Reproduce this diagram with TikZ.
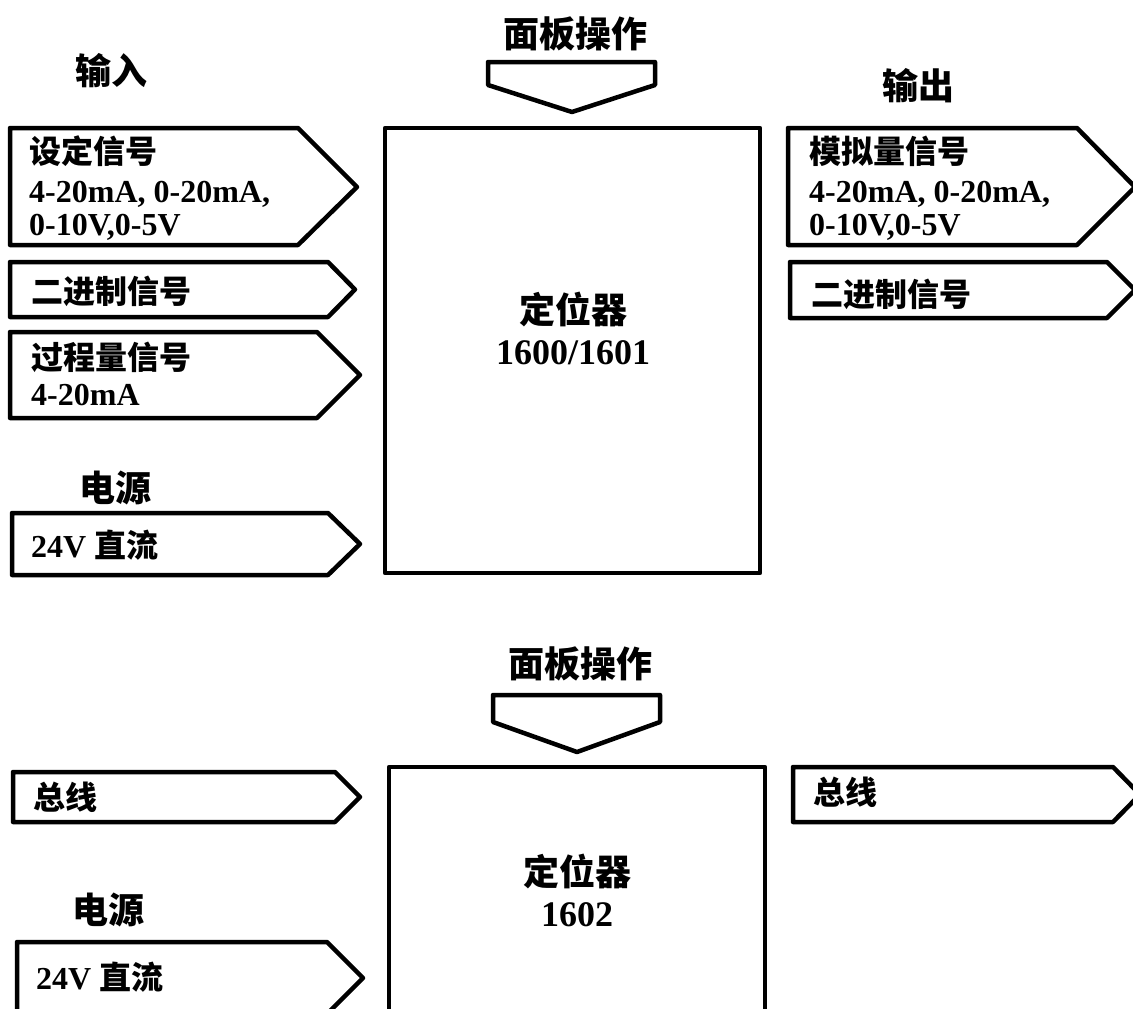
\documentclass[tikz,border=0pt]{standalone}
\usepackage{fontspec}
\setmainfont{Liberation Serif}[UprightFont={* Bold},BoldFont={* Bold}]
\newfontfamily\cjk{Noto Sans CJK SC}
\newcommand\zh[1]{{\cjk #1}}

\begin{document}
\begin{tikzpicture}[x=1pt,y=-1pt,line join=round,line cap=round,
    port/.style={draw,line width=4.5pt,fill=white},
    posbox/.style={draw,line width=4.5pt,fill=white},
    heading/.style={inner sep=0pt,font=\fontsize{36}{38}\selectfont\bfseries},
    portlabel/.style={inner sep=0pt,align=left,font=\fontsize{32}{33}\selectfont\bfseries},
    boxlabel/.style={inner sep=0pt,align=center,font=\fontsize{36}{41}\selectfont\bfseries}]
    \useasboundingbox (0,0) rectangle (1133,1009);
    \clip (0,0) rectangle (1133,1009);

    % The upper positioner (1600/1601) with its panel arrow.
    \draw[posbox] (385,128) rectangle (760,573);
    \draw[port] (488,62) -- (655,62) -- (655,85) -- (572,112) -- (488,85) -- cycle;
    \node[heading] (panelA) at (575,34) {\zh{面板操作}};
    \node[boxlabel] (posA) at (573,328) {\zh{定位器}\\1600/1601};

    % The inputs on the left.
    \node[heading] (inA) at (111,71) {\zh{输入}};
    \draw[port] (10,128) -- (298,128) -- (357,187) -- (298,245) -- (10,245) -- cycle;
    \draw[port] (10,262) -- (328,262) -- (355,289.5) -- (328,317) -- (10,317) -- cycle;
    \draw[port] (10,332) -- (317,332) -- (360,375) -- (317,418) -- (10,418) -- cycle;
    \node[portlabel,anchor=north west] (setA) at (29,136)
      {\zh{设定信号}\\[6pt]4-20mA, 0-20mA,\\0-10V,0-5V};
    \node[portlabel,anchor=west] (binA) at (31,291) {\zh{二进制信号}};
    \node[portlabel,anchor=north west] (procA) at (31,342)
      {\zh{过程量信号}\\[3pt]4-20mA};

    % The supply.
    \node[heading] (pwrA) at (115,488) {\zh{电源}};
    \draw[port] (12,513) -- (328,513) -- (360,544) -- (328,575) -- (12,575) -- cycle;
    \node[portlabel,anchor=west] (dcA) at (31,545) {24V \zh{直流}};

    % The outputs on the right.
    \node[heading] (outA) at (918,86) {\zh{输出}};
    \draw[port] (788,128) -- (1077,128) -- (1135,187) -- (1077,245) -- (788,245) -- cycle;
    \draw[port] (790,262) -- (1107,262) -- (1135,290) -- (1107,318) -- (790,318) -- cycle;
    \node[portlabel,anchor=north west] (anaA) at (809,136)
      {\zh{模拟量信号}\\[6pt]4-20mA, 0-20mA,\\0-10V,0-5V};
    \node[portlabel,anchor=west] (binoutA) at (811,294) {\zh{二进制信号}};

    % The lower positioner (1602), cut off at the bottom.
    \draw[posbox] (389,767) rectangle (765,1040);
    \draw[port] (493,695) -- (660,695) -- (660,722) -- (577,752) -- (493,722) -- cycle;
    \node[heading] (panelB) at (580,664) {\zh{面板操作}};
    \node[boxlabel] (posB) at (577,890) {\zh{定位器}\\1602};

    % Bus in, supply and bus out.
    \draw[port] (13,772) -- (335,772) -- (360,797) -- (335,822) -- (13,822) -- cycle;
    \node[portlabel,anchor=west] (busA) at (33,797) {\zh{总线}};
    \node[heading] (pwrB) at (108,910) {\zh{电源}};
    \draw[port] (17,942) -- (327,942) -- (363,978) -- (327,1014) -- (17,1014) -- cycle;
    \node[portlabel,anchor=west] (dcB) at (36,977) {24V \zh{直流}};
    \draw[port] (793,767) -- (1113,767) -- (1140,794.5) -- (1113,822) -- (793,822) -- cycle;
    \node[portlabel,anchor=west] (busB) at (813,792) {\zh{总线}};
  \end{tikzpicture}
\end{document}
